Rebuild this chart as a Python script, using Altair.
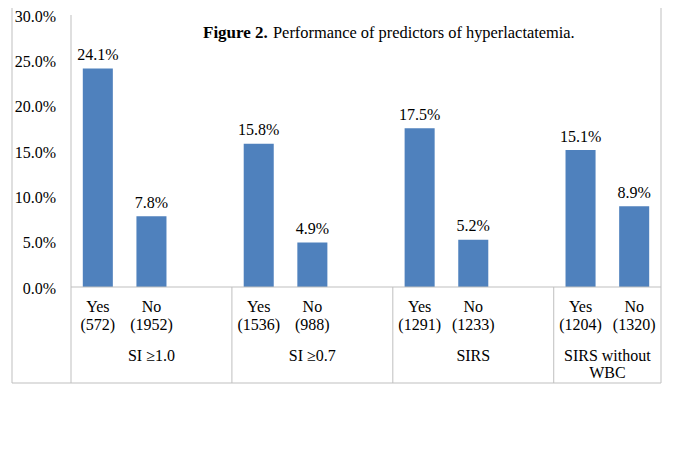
import altair as alt
import pandas as pd

# ---- data ----
slots = [0, 1, 3, 4, 6, 7, 9, 10]
answers = ["Yes", "No", "Yes", "No", "Yes", "No", "Yes", "No"]
counts = ["(572)", "(1952)", "(1536)", "(988)", "(1291)", "(1233)", "(1204)", "(1320)"]
rates = [0.241, 0.078, 0.158, 0.049, 0.175, 0.052, 0.151, 0.089]

group_line1 = ["SI ≥1.0", "SI ≥0.7", "SIRS", "SIRS without"]
group_line2 = ["", "", "", "WBC"]
group_start = [0, 3, 6, 9]
group_end = [3, 6, 9, 11]

y_ticks = [0.0, 0.05, 0.10, 0.15, 0.20, 0.25, 0.30]
title_bold = "Figure 2."
title_rest = "Performance of predictors of hyperlactatemia."

# ---- layout constants ----
FONT = "Liberation Serif"
BLUE = "#4F81BD"
GRAY = "#BFBFBF"
X_MIN, X_MAX = -1.1, 11
Y_MIN, Y_MAX = -0.10588, 0.30772

bars_df = pd.DataFrame({
    "slot": slots,
    "answer": answers,
    "count": counts,
    "rate": rates,
})
bars_df["x0"] = bars_df["slot"] + 0.22
bars_df["x1"] = bars_df["slot"] + 0.78
bars_df["center"] = bars_df["slot"] + 0.5
bars_df["zero"] = 0.0

groups_df = pd.DataFrame({
    "line1": group_line1,
    "line2": group_line2,
    "start": group_start,
    "end": group_end,
})
groups_df["mid"] = (groups_df["start"] + groups_df["end"]) / 2

ticks_df = pd.DataFrame({"tick": y_ticks})

# vertical lines: y-axis line, group separators, outer frame left/right
vlines_df = pd.DataFrame({
    "x": [0] + group_start[1:] + [X_MIN, X_MAX],
    "ytop": [max(y_ticks)] + [0.0] * (len(group_start) - 1) + [Y_MAX, Y_MAX],
    "ybot": [Y_MIN] * (len(group_start) + 2),
})
# horizontal lines: baseline at 0, bottom frame
hlines_df = pd.DataFrame({
    "x": [0, X_MIN],
    "x2": [group_end[-1], X_MAX],
    "y": [0.0, Y_MIN],
})
title_df = pd.DataFrame({"bold": [title_bold], "rest": [title_rest]})

xs = alt.Scale(domain=[X_MIN, X_MAX], nice=False, zero=False)
ys = alt.Scale(domain=[Y_MIN, Y_MAX], nice=False, zero=False)

bars = alt.Chart(bars_df).mark_bar(color=BLUE).encode(
    x=alt.X("x0:Q", scale=xs, axis=None),
    x2="x1:Q",
    y=alt.Y("rate:Q", scale=ys, axis=None),
    y2="zero:Q",
)

tick_labels = alt.Chart(ticks_df).mark_text(
    font=FONT, fontSize=16, align="right", baseline="middle", dy=1.8,
    color="black"
).encode(
    x=alt.value(44),
    y=alt.Y("tick:Q", scale=ys, axis=None),
    text=alt.Text("tick:Q", format=".1%"),
)

value_labels = alt.Chart(bars_df).mark_text(
    font=FONT, fontSize=16, baseline="alphabetic", dy=-8.5, color="black"
).encode(
    x=alt.X("center:Q", scale=xs, axis=None),
    y=alt.Y("rate:Q", scale=ys, axis=None),
    text=alt.Text("rate:Q", format=".1%"),
)

answer_labels = alt.Chart(bars_df).mark_text(
    font=FONT, fontSize=16, baseline="alphabetic", color="black"
).encode(
    x=alt.X("center:Q", scale=xs, axis=None),
    y=alt.value(304),
    text="answer:N",
)

count_labels = alt.Chart(bars_df).mark_text(
    font=FONT, fontSize=16, baseline="alphabetic", color="black"
).encode(
    x=alt.X("center:Q", scale=xs, axis=None),
    y=alt.value(322),
    text="count:N",
)

group1 = alt.Chart(groups_df).mark_text(
    font=FONT, fontSize=16, baseline="alphabetic", color="black"
).encode(
    x=alt.X("mid:Q", scale=xs, axis=None),
    y=alt.value(353),
    text="line1:N",
)

group2 = alt.Chart(groups_df).mark_text(
    font=FONT, fontSize=16, baseline="alphabetic", color="black"
).encode(
    x=alt.X("mid:Q", scale=xs, axis=None),
    y=alt.value(370),
    text="line2:N",
)

vlines = alt.Chart(vlines_df).mark_rule(color=GRAY, strokeWidth=1).encode(
    x=alt.X("x:Q", scale=xs, axis=None),
    y=alt.Y("ytop:Q", scale=ys, axis=None),
    y2="ybot:Q",
)

hlines = alt.Chart(hlines_df).mark_rule(color=GRAY, strokeWidth=1).encode(
    x=alt.X("x:Q", scale=xs, axis=None),
    x2="x2:Q",
    y=alt.Y("y:Q", scale=ys, axis=None),
)

t_bold = alt.Chart(title_df).mark_text(
    font=FONT, fontSize=17, fontWeight="bold", align="left",
    baseline="alphabetic", color="black"
).encode(x=alt.value(191), y=alt.value(30), text="bold:N")

t_rest = alt.Chart(title_df).mark_text(
    font=FONT, fontSize=16.4, align="left", baseline="alphabetic", color="black"
).encode(x=alt.value(261), y=alt.value(30), text="rest:N")

chart = alt.layer(
    bars, vlines, hlines, tick_labels, value_labels, answer_labels,
    count_labels, group1, group2, t_bold, t_rest
).properties(
    width=649, height=375,
    autosize=alt.AutoSizeParams(type="none"),
    padding={"left": 4, "top": 0, "right": 10, "bottom": 10},
    background="white",
).configure_view(stroke=None)

chart.save("out.html", embed_options={"renderer": "svg", "actions": False})
